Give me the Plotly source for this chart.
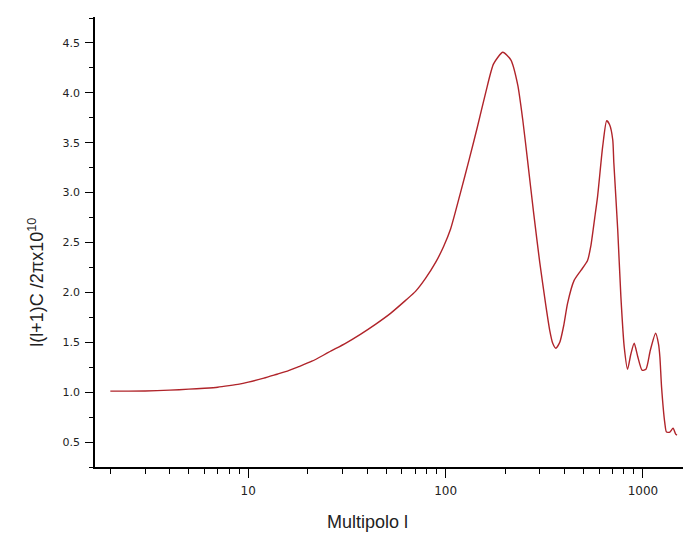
import plotly.graph_objects as go

# Multipole l and l(l+1)C_l/2pi x 10^10
multipole = [2, 3, 4, 5, 6, 7, 8, 9, 10, 12, 14, 16, 18, 21, 24, 26.1, 31.1, 37.0, 44.1,
             52.6, 62.7, 70.4, 79.1, 89.0, 97.7, 106, 119, 132, 145, 160, 175, 195, 214,
             232, 246, 261, 280, 300, 322, 337, 349, 362, 379, 397, 415, 448, 485, 524, 544,
             570, 589, 625, 655, 678, 703, 712, 745, 773, 804, 836, 868, 903, 940, 990, 1036,
             1090, 1159, 1200, 1219, 1243, 1291, 1316, 1369, 1421, 1465, 1487]
power = [1.01, 1.012, 1.02, 1.03, 1.04, 1.05, 1.065, 1.08, 1.10, 1.14, 1.18, 1.215, 1.255,
         1.31, 1.37, 1.41, 1.49, 1.58, 1.68, 1.79, 1.92, 2.01, 2.14, 2.30, 2.46, 2.635, 3.00,
         3.34, 3.66, 4.01, 4.29, 4.406, 4.33, 4.08, 3.73, 3.30, 2.78, 2.30, 1.87, 1.62, 1.49,
         1.44, 1.50, 1.67, 1.89, 2.12, 2.22, 2.32, 2.46, 2.75, 2.96, 3.46, 3.72, 3.68, 3.53,
         3.30, 2.63, 1.96, 1.45, 1.23, 1.38, 1.49, 1.36, 1.22, 1.23, 1.42, 1.59, 1.48, 1.35,
         1.05, 0.69, 0.60, 0.60, 0.64, 0.58, 0.57]

x_major = [10, 100, 1000]
x_major_text = ["10", "100", "1000"]
x_minor = [2, 3, 4, 5, 6, 7, 8, 9, 20, 30, 40, 50, 60, 70, 80, 90,
           200, 300, 400, 500, 600, 700, 800, 900]
y_major = [0.5, 1.0, 1.5, 2.0, 2.5, 3.0, 3.5, 4.0, 4.5]
y_major_text = ["0.5", "1.0", "1.5", "2.0", "2.5", "3.0", "3.5", "4.0", "4.5"]
y_minor = [0.25, 0.75, 1.25, 1.75, 2.25, 2.75, 3.25, 3.75, 4.25, 4.75]

fig = go.Figure()
fig.add_trace(go.Scatter(
    x=multipole, y=power, mode="lines",
    line=dict(color="#b0242a", width=1.4, shape="spline", smoothing=0.6),
    showlegend=False, hoverinfo="skip",
))

fig.update_xaxes(
    type="log", range=[0.2234, 3.203],
    showgrid=False, zeroline=False,
    showline=True, linecolor="black", linewidth=1.5,
    ticks="outside", ticklen=9, tickwidth=1.2, tickcolor="black",
    tickvals=x_major, ticktext=x_major_text,
    tickfont=dict(family="DejaVu Sans", size=12, color="#222222"),
    ticklabelstandoff=3,
    minor=dict(tickvals=x_minor, ticks="outside", ticklen=5, tickwidth=1.2, tickcolor="black"),
)
fig.update_yaxes(
    range=[0.25, 4.76],
    showgrid=False, zeroline=False,
    showline=True, linecolor="black", linewidth=1.5,
    ticks="outside", ticklen=8, tickwidth=1.2, tickcolor="black",
    tickvals=y_major, ticktext=y_major_text,
    tickfont=dict(family="DejaVu Sans", size=11, color="#222222"),
    ticklabelstandoff=3,
    minor=dict(tickvals=y_minor, ticks="outside", ticklen=4, tickwidth=1.2, tickcolor="black"),
)

fig.add_annotation(
    text="Multipolo l", xref="paper", yref="paper", x=0.464, y=-0.1216,
    xanchor="center", yanchor="middle", showarrow=False,
    font=dict(family="Arial", size=18, color="#222222"),
)
fig.add_annotation(
    text="l(l+1)C /2πx10<sup>10</sup>", xref="paper", yref="paper", x=-0.1, y=0.41,
    xanchor="center", yanchor="middle", showarrow=False, textangle=-90,
    font=dict(family="Arial", size=18, color="#222222"),
)

fig.update_layout(
    width=683, height=543, autosize=False,
    margin=dict(l=95, r=0, t=17, b=76),
    paper_bgcolor="white", plot_bgcolor="white",
)

fig.write_html("out.html")
